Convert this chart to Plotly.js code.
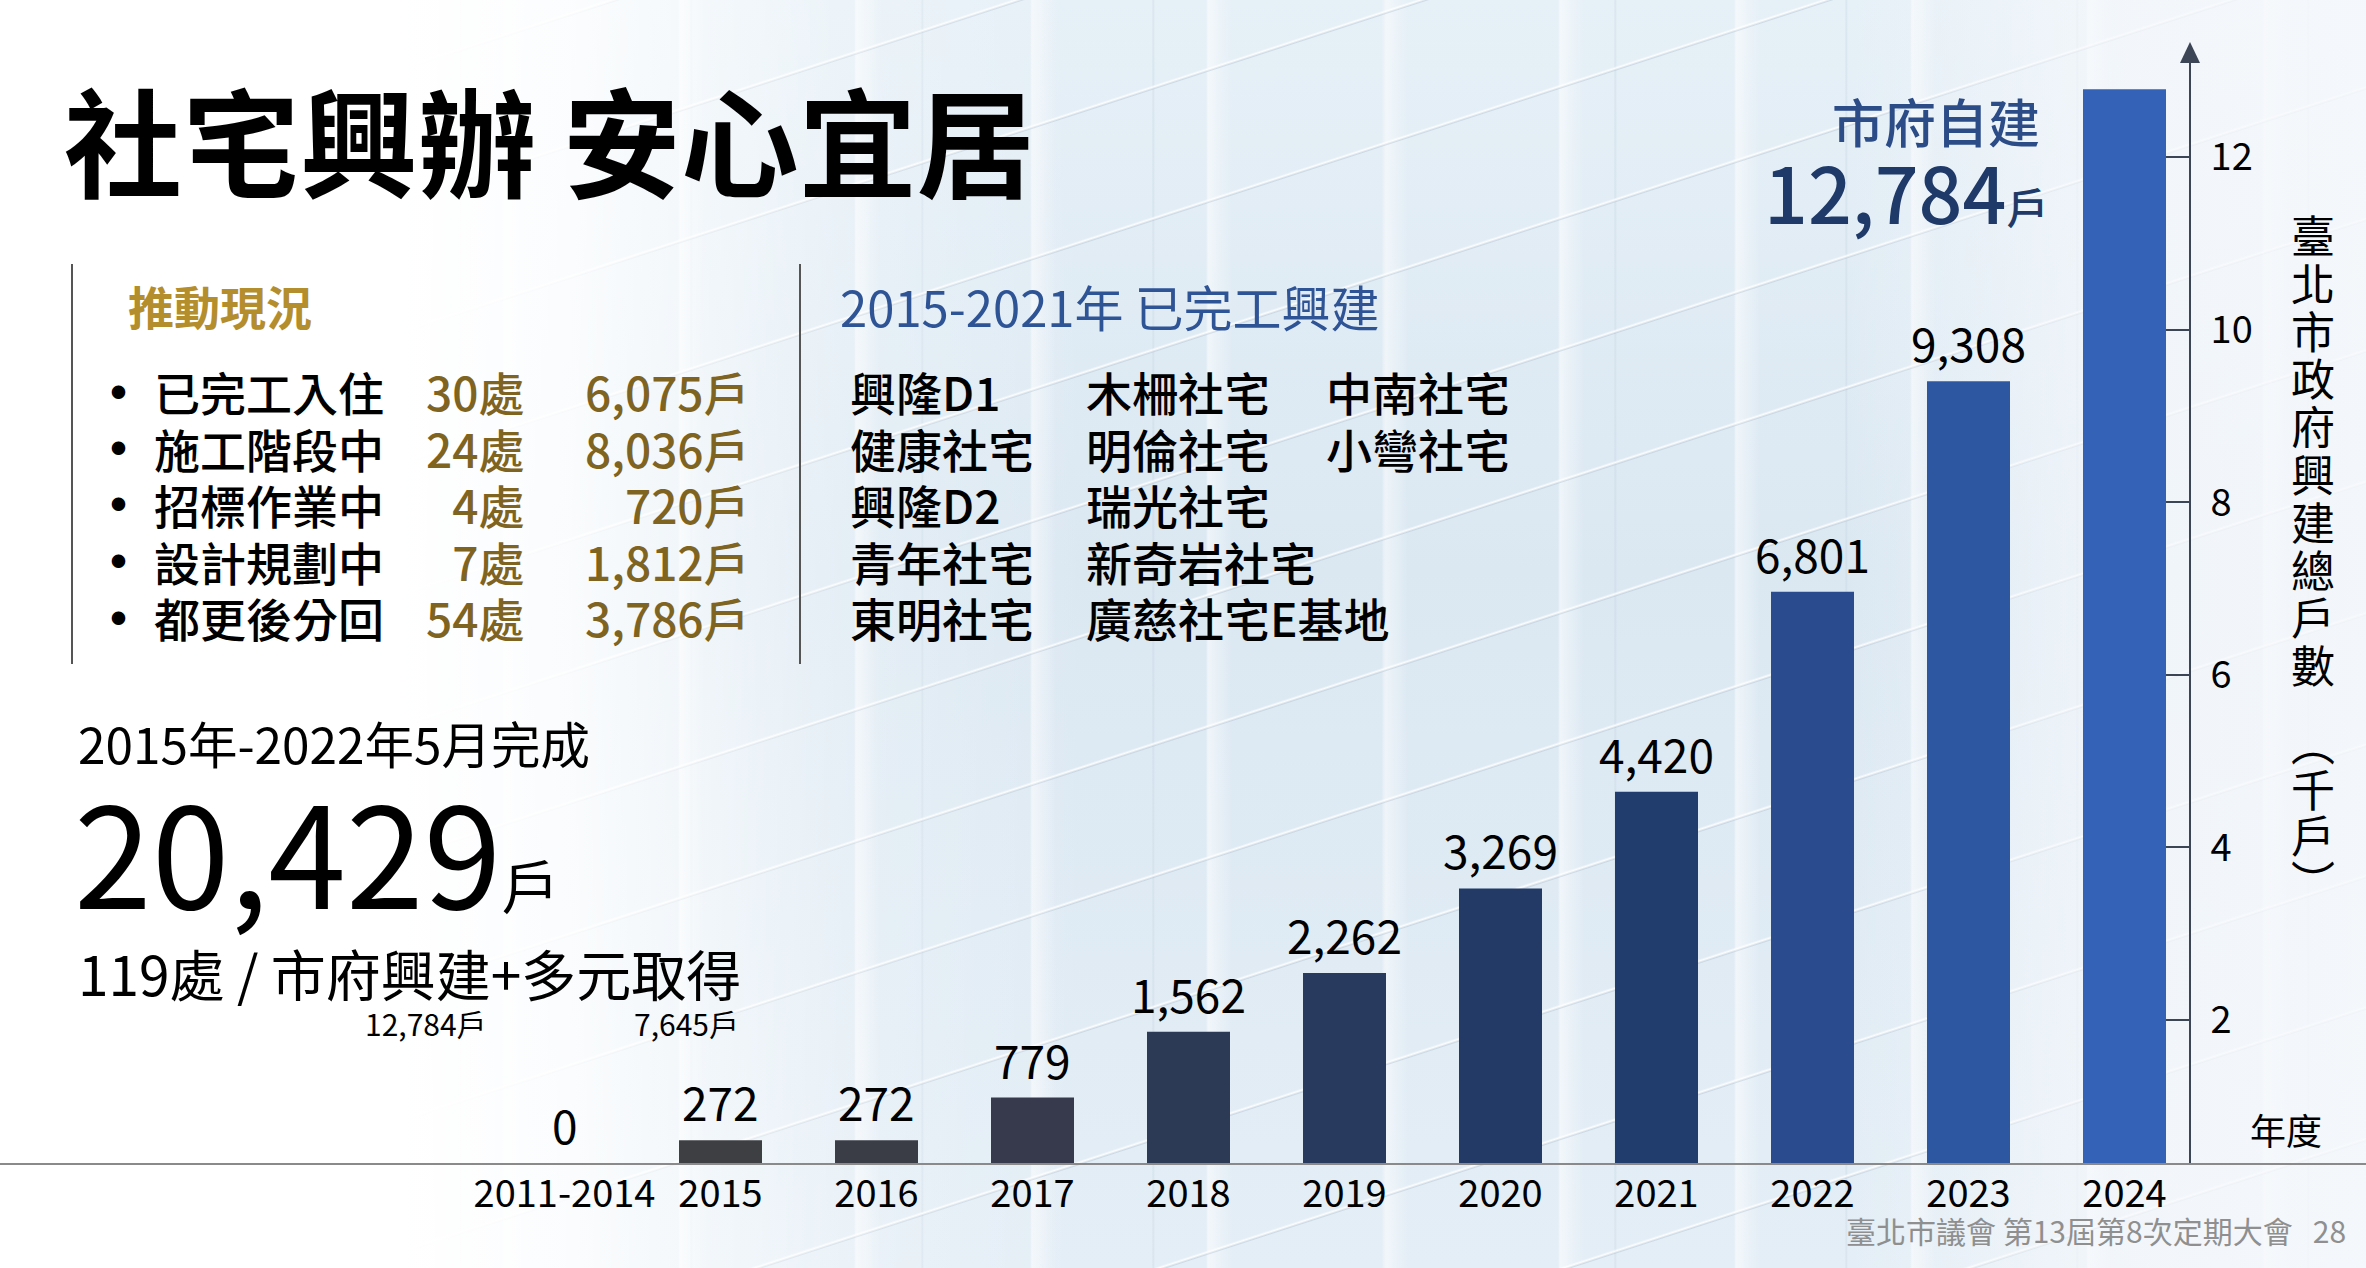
<!DOCTYPE html>
<html>
<head>
<meta charset="utf-8">
<script src="https://cdn.plot.ly/plotly-3.0.1.min.js"></script>
<style>
html, body { margin:0; padding:0; }
body {
  width:2366px; height:1268px; overflow:hidden;
  background:
    linear-gradient(90deg, #ffffff 0%, #ffffff 17%, rgba(255,255,255,0.85) 24%, rgba(255,255,255,0.25) 36%, rgba(255,255,255,0) 46%, rgba(255,255,255,0) 78%, rgba(247,249,252,0.75) 90%, rgba(247,249,252,0.85) 100%),
    repeating-linear-gradient(-18deg, rgba(255,255,255,0) 0px, rgba(255,255,255,0) 120px, rgba(170,188,204,0.40) 121px, rgba(255,255,255,0.9) 123px, rgba(255,255,255,0) 125px),
    repeating-linear-gradient(90deg, rgba(255,255,255,0) 0px, rgba(255,255,255,0) 150px, rgba(255,255,255,0.55) 152px, rgba(255,255,255,0) 176px),
    repeating-linear-gradient(90deg, rgba(200,215,228,0) 0px, rgba(200,215,228,0) 228px, rgba(190,206,220,0.35) 229px, rgba(200,215,228,0) 231px),
    linear-gradient(180deg, #e6f0f7 0%, #dbe8f2 45%, #e4eef6 100%);
}
#chart { width:2366px; height:1268px; }
</style>
</head>
<body>
<div id="chart"></div>
<script>
// ---------------- data ----------------
const categories = ['2011-2014','2015','2016','2017','2018','2019','2020','2021','2022','2023','2024'];
const households = [0, 272, 272, 779, 1562, 2262, 3269, 4420, 6801, 9308, 12784];
const yTickVals = [2, 4, 6, 8, 10, 12];
const yTickText = ['2', '4', '6', '8', '10', '12'];

const statusLabels = ['已完工入住', '施工階段中', '招標作業中', '設計規劃中', '都更後分回'];
const statusSites  = [30, 24, 4, 7, 54];
const statusUnits  = [6075, 8036, 720, 1812, 3786];

const projectCol1 = ['興隆D1', '健康社宅', '興隆D2', '青年社宅', '東明社宅'];
const projectCol2 = ['木柵社宅', '明倫社宅', '瑞光社宅', '新奇岩社宅', '廣慈社宅E基地'];
const projectCol3 = ['中南社宅', '小彎社宅'];

const totalUnits = 20429;
const totalSites = 119;
const cityBuiltUnits = 12784;
const diverseUnits = 7645;

const yTitleMain = '臺北市政府興建總戶數';
const yTitleUnit = ['︵', '千', '戶', '︶'];

// ---------------- styles ----------------
const barColors = ['#3f3f41', '#3e3f43', '#3b3d46', '#363a4c', '#2d3a56', '#283a5e', '#243a66', '#213d6e', '#2a4c8e', '#2e57a2', '#3462b6'];
const W = 2366, H = 1268;
const FONT = '"Noto Sans CJK TC", "Noto Sans CJK SC", "Noto Sans", sans-serif';
const fmt = v => v.toLocaleString('en-US');
const px = x => x / W;
const py = y => 1 - y / H;
const LINE = 1.3; // Plotly line spacing in em of base font

const ann = [];
function txt(text, x, y, size, color, anchor, weight) {
  ann.push({
    xref: 'paper', yref: 'paper', x: px(x), y: py(y), text: text,
    showarrow: false, xanchor: anchor || 'left', yanchor: 'middle',
    font: { family: FONT, size: size, color: color, weight: weight || 400 }
  });
}
// multi-line block: glyph size `size`, line pitch `pitch`, first line centred at y0
function block(lines, x, y0, pitch, size, color, anchor, weight) {
  const yc = y0 + pitch * (lines.length - 1) / 2;
  ann.push({
    xref: 'paper', yref: 'paper', x: px(x), y: py(yc), showarrow: false,
    xanchor: anchor || 'left', yanchor: 'middle', align: anchor || 'left',
    text: lines.map(s => '<span style="font-size:' + size + 'px">' + s + '</span>').join('<br>'),
    font: { family: FONT, size: pitch / LINE, color: color, weight: weight || 400 }
  });
}

// Title
txt('社宅興辦 安心宜居', 62, 137, 118, '#000000', 'left', 700);

// Left block: status
const rowY0 = 391, rowPitch = 56.5;
txt('推動現況', 126, 305, 46, '#b48d2c', 'left', 700);
statusLabels.forEach((lab, i) => txt('●', 118, rowY0 + rowPitch * i, 15, '#000000', 'center'));
block(statusLabels, 152, rowY0, rowPitch, 46, '#000000', 'left', 500);
block(statusSites.map(v => v + '處'), 526, rowY0, rowPitch, 46, '#7f6321', 'right', 500);
block(statusUnits.map(v => fmt(v) + '戶'), 752, rowY0, rowPitch, 46, '#7f6321', 'right', 500);

// Middle block: completed projects
txt('2015-2021年 已完工興建', 838, 305, 49, '#2f5496', 'left', 400);
block(projectCol1, 848, rowY0, rowPitch, 46, '#000000', 'left', 500);
block(projectCol2, 1084, rowY0, rowPitch, 46, '#000000', 'left', 500);
block(projectCol3, 1324, rowY0, rowPitch, 46, '#000000', 'left', 500);

// Summary block
txt('2015年-2022年5月完成', 76, 742, 49.5, '#000000', 'left');
txt(fmt(totalUnits) + '<span style="font-size:58px">戶</span>', 72, 848, 140, '#000000', 'left');
txt(totalSites + '處 / 市府興建+多元取得', 76, 972, 55, '#000000', 'left', 400);
txt(fmt(cityBuiltUnits) + '戶', 489, 1023, 30, '#000000', 'right');
txt(fmt(diverseUnits) + '戶', 741, 1023, 30, '#000000', 'right');

// City-built callout
txt('市府自建', 2042, 121, 52, '#2c4c88', 'right', 500);
txt(fmt(cityBuiltUnits) + '<span style="font-size:42px">戶</span>', 2050, 191, 77, '#1f3a68', 'right', 500);

// Vertical axis title: stacked upright characters
block(yTitleMain.split(''), 2313, 234, 47.8, 44, '#000000', 'center');
block(yTitleUnit, 2313, 742, 46, 44, '#000000', 'center');

// x-axis name
txt('年度', 2286, 1129, 36, '#000000', 'center');

// Footer
txt('臺北市議會 第13屆第8次定期大會&nbsp;&nbsp;&nbsp;28', 2348, 1230, 30, '#8f8f8f', 'right');

// Value labels above bars (the 2024 value is given by the callout instead)
categories.slice(0, -1).forEach((c, i) => {
  ann.push({
    xref: 'x', yref: 'y', x: i, y: households[i], text: fmt(households[i]),
    showarrow: false, xanchor: 'center', yanchor: 'bottom', yshift: 4,
    font: { family: FONT, size: 46, color: '#000000' }
  });
});

// ---------------- geometry ----------------
const baseY = 1163, topY = 62, axisX = 2190;
const firstCenter = 564.5, step = 156;
const xr0 = -firstCenter / step, xr1 = (W - firstCenter) / step;
const barScale = 0.0840;                   // px per household (bars)
const tickScale = 86.3, tickZero = 1192.6; // px per thousand (drawn axis)

const shapes = [
  { type: 'line', xref: 'paper', yref: 'paper', x0: px(72), x1: px(72), y0: py(264), y1: py(664), line: { color: '#555555', width: 2 } },
  { type: 'line', xref: 'paper', yref: 'paper', x0: px(800), x1: px(800), y0: py(264), y1: py(664), line: { color: '#555555', width: 2 } },
  { type: 'path', xref: 'paper', yref: 'paper',
    path: `M ${px(axisX - 10)} ${py(topY + 1)} L ${px(axisX + 10)} ${py(topY + 1)} L ${px(axisX)} ${py(42)} Z`,
    fillcolor: '#3b4556', line: { width: 0 } }
];

const traces = [
  {
    type: 'bar', x: categories, y: households, yaxis: 'y',
    marker: { color: barColors }, hoverinfo: 'skip', showlegend: false
  },
  {
    type: 'scatter', mode: 'markers', x: categories, y: households.map(v => v / 1000), yaxis: 'y2',
    marker: { opacity: 0 }, hoverinfo: 'skip', showlegend: false
  }
];

const layout = {
  width: W, height: H, autosize: false,
  margin: { l: 0, r: 0, t: 0, b: 0, pad: 0 },
  paper_bgcolor: 'rgba(0,0,0,0)', plot_bgcolor: 'rgba(0,0,0,0)',
  showlegend: false, bargap: 1 - 83 / step,
  xaxis: {
    type: 'category', range: [xr0, xr1], domain: [0, 1],
    showline: true, linecolor: '#8a8a8a', linewidth: 2,
    showgrid: false, zeroline: false, ticks: '',
    tickfont: { family: FONT, size: 38, color: '#000000' },
    ticklabelstandoff: -4, fixedrange: true
  },
  yaxis: {
    domain: [py(baseY), py(topY)],
    range: [0, (baseY - topY) / barScale],
    visible: false, fixedrange: true
  },
  yaxis2: {
    overlaying: 'y', anchor: 'free', position: px(axisX), side: 'right',
    range: [(tickZero - baseY) / tickScale, (tickZero - topY) / tickScale],
    tickvals: yTickVals, ticktext: yTickText,
    ticks: 'inside', ticklen: 23, tickwidth: 2, tickcolor: '#3b4556',
    showline: true, linecolor: '#3b4556', linewidth: 2,
    showgrid: false, zeroline: false,
    tickfont: { family: FONT, size: 38, color: '#000000' },
    ticklabelstandoff: 12, fixedrange: true
  },
  annotations: ann,
  shapes: shapes
};

Plotly.newPlot('chart', traces, layout, { staticPlot: true, displayModeBar: false });
</script>
</body>
</html>
